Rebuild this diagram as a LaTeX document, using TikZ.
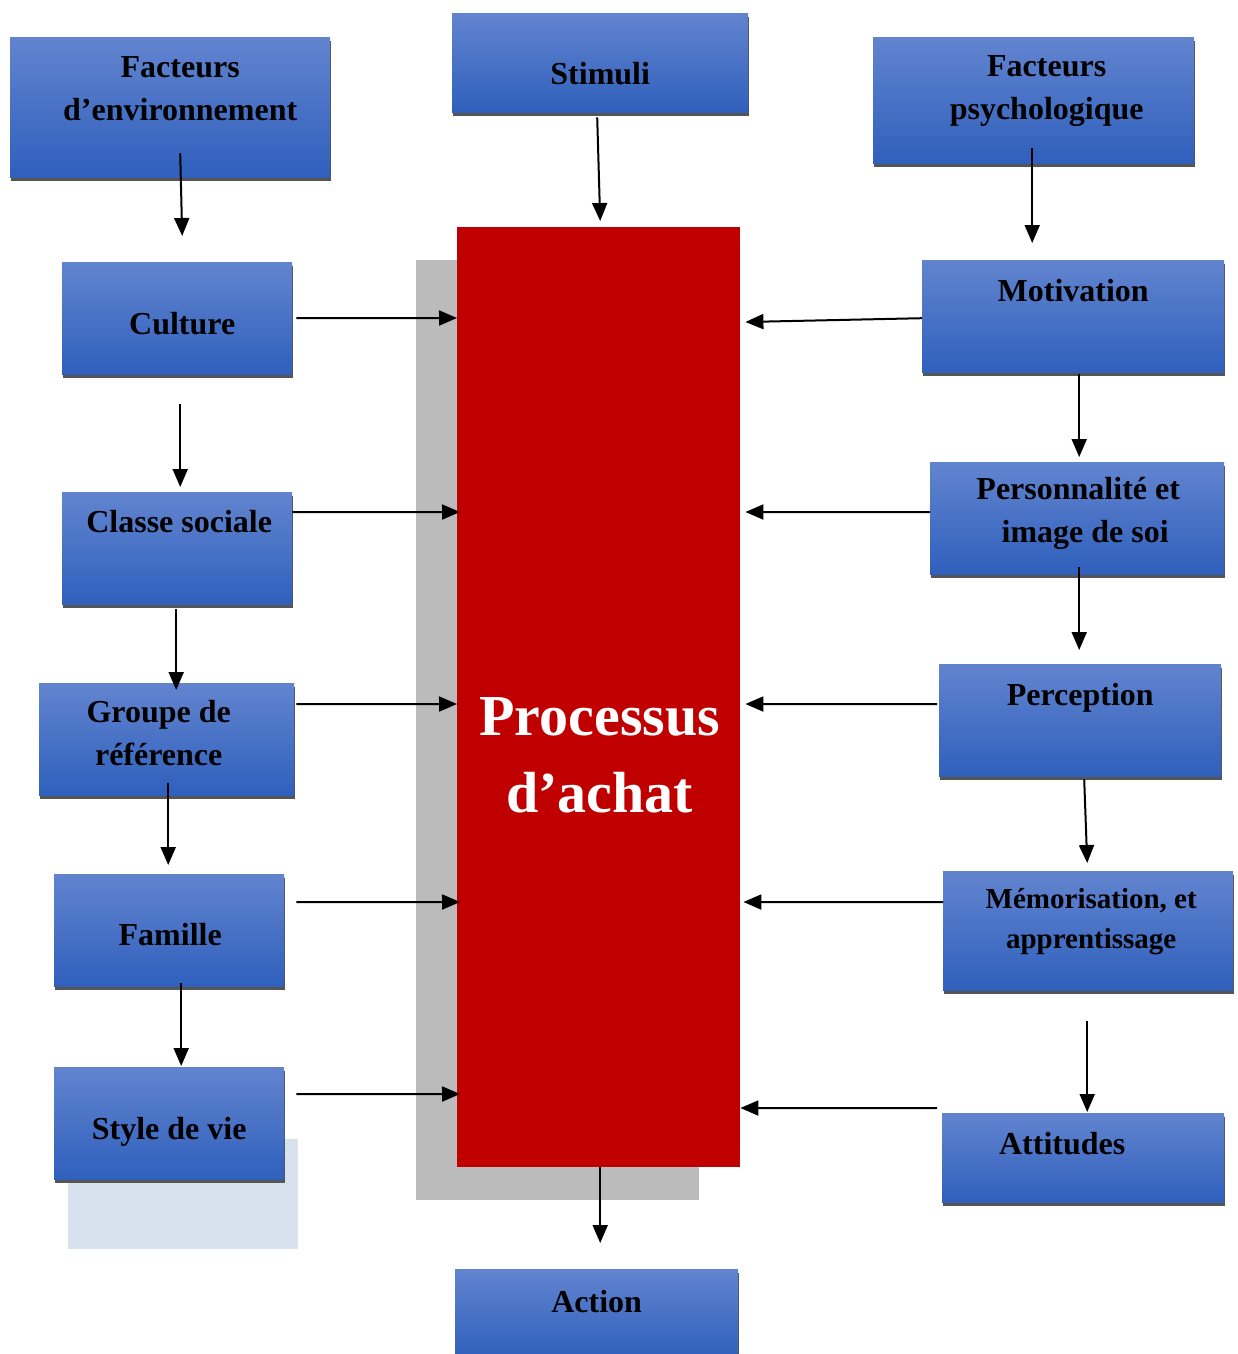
\documentclass[tikz,border=0pt]{standalone}
\usepackage{fontspec}
\setmainfont{Liberation Serif}
\usetikzlibrary{arrows.meta,shadows}
\definecolor{bleuhaut}{HTML}{6284CF}
\definecolor{bleubas}{HTML}{2F60BC}
\definecolor{rouge}{HTML}{C00000}
\definecolor{gris}{HTML}{BBBBBB}
\definecolor{ombre}{HTML}{555555}
\definecolor{bleupale}{HTML}{D8E2EF}
\tikzset{
  boite/.style={
    rectangle, anchor=north west, inner sep=0pt,
    top color=bleuhaut, bottom color=bleubas,
    drop shadow={shadow xshift=1pt, shadow yshift=-4pt, fill=ombre, opacity=1}
  },
  etiq/.style={font=\bfseries\fontsize{32}{43}\selectfont, align=center, text=black},
  petit/.style={font=\bfseries\fontsize{29}{40}\selectfont},
  fleche/.style={-{Triangle[length=18pt,width=15pt]}, line width=2pt}
}

\begin{document}
\begin{tikzpicture}[x=1pt,y=-1pt]
\useasboundingbox (0,0) rectangle (1238,1354);

\node[anchor=north west, inner sep=0pt, fill=rouge, minimum width=283, minimum height=940,
  drop shadow={shadow xshift=-41pt, shadow yshift=-33pt, fill=gris, opacity=1},
  label={[font=\bfseries\fontsize{58}{77}\selectfont, text=white, align=center, xshift=1pt, yshift=-58pt]center:{Processus\\d’achat}}]
  (proc) at (457,227) {};

\node[boite, minimum width=320, minimum height=140, label={[etiq, xshift=10pt, yshift=19pt]center:{Facteurs\\d’environnement}}] (fe) at (10,37) {};
\node[boite, minimum width=296, minimum height=99, label={[etiq, yshift=-11pt]center:Stimuli}] (stim) at (452,13) {};
\node[boite, minimum width=321, minimum height=126, label={[etiq, xshift=13pt, yshift=9pt]center:{Facteurs\\psychologique}}] (fp) at (873,37) {};

\node[boite, minimum width=230, minimum height=112, label={[etiq, xshift=5pt, yshift=-5pt]center:Culture}] (cult) at (62,262) {};
\node[boite, minimum width=230, minimum height=112, label={[etiq, xshift=2pt, yshift=27pt]center:Classe sociale}] (classe) at (62,492) {};
\node[boite, minimum width=255, minimum height=112, label={[etiq, xshift=-8pt, yshift=6pt]center:{Groupe de\\référence}}] (groupe) at (39,683) {};
\node[boite, minimum width=230, minimum height=112, label={[etiq, xshift=1pt, yshift=-4pt]center:Famille}] (fam) at (54,874) {};
\fill[bleupale] (68,1139) rectangle (298,1249);
\node[boite, minimum width=230, minimum height=112, label={[etiq, yshift=-9pt]center:Style de vie}] (style) at (54,1067) {};

\node[boite, minimum width=302, minimum height=112, label={[etiq, yshift=26pt]center:Motivation}] (motiv) at (922,260) {};
\node[boite, minimum width=294, minimum height=112, label={[etiq, xshift=1pt, yshift=5pt]center:{Personnalité et\\\hspace*{14pt}image de soi}}] (perso) at (930,462) {};
\node[boite, minimum width=282, minimum height=112, label={[etiq, yshift=22pt]center:Perception}] (percep) at (939,664) {};
\node[boite, minimum width=290, minimum height=119, label={[etiq, petit, xshift=3pt, yshift=9pt]center:{Mémorisation, et\\apprentissage}}] (memo) at (943,871) {};
\node[boite, minimum width=282, minimum height=89, label={[etiq, xshift=-21pt, yshift=14pt]center:Attitudes}] (att) at (942,1113) {};

\node[boite, minimum width=283, minimum height=90, label={[etiq, yshift=13pt]center:Action}] (action) at (455,1269) {};

\draw[fleche] ([shift={(10,-24)}]fe.south) -- ([shift={(5,-26)}]cult.north);
\draw[fleche] ([shift={(-3,5)}]stim.south) -- ([shift={(1.5,-6)}]proc.north);
\draw[fleche] ([shift={(-1.5,-15)}]fp.south) -- ([shift={(-41,-17)}]motiv.north);

\draw[fleche] ([shift={(3,30)}]cult.south) -- ([shift={(3,-5)}]classe.north);
\draw[fleche] ([shift={(-1,5)}]classe.south) -- ([shift={(9.5,7)}]groupe.north);
\draw[fleche] ([shift={(1.5,-12)}]groupe.south) -- ([shift={(-1,-9)}]fam.north);
\draw[fleche] ([shift={(12,-3)}]fam.south) -- ([shift={(12,-1)}]style.north);

\draw[fleche] ([shift={(4,0)}]cult.east) -- ([shift={(0,91)}]proc.north west);
\draw[fleche] ([shift={(0,-36)}]classe.east) -- ([shift={(3,285)}]proc.north west);
\draw[fleche] ([shift={(2,-35)}]groupe.east) -- ([shift={(0,477)}]proc.north west);
\draw[fleche] ([shift={(12,-28)}]fam.east) -- ([shift={(3,675)}]proc.north west);
\draw[fleche] ([shift={(12,-29)}]style.east) -- ([shift={(3,867)}]proc.north west);

\draw[fleche] ([shift={(0,2)}]motiv.west) -- ([shift={(5,95)}]proc.north east);
\draw[fleche] ([shift={(0,-6)}]perso.west) -- ([shift={(5,285)}]proc.north east);
\draw[fleche] ([shift={(-2,-16)}]percep.west) -- ([shift={(5,477)}]proc.north east);
\draw[fleche] ([shift={(0,-28.5)}]memo.west) -- ([shift={(3,675)}]proc.north east);
\draw[fleche] ([shift={(-5,-49.5)}]att.west) -- ([shift={(0,881)}]proc.north east);

\draw[fleche] ([shift={(6,2)}]motiv.south) -- ([shift={(2,-5)}]perso.north);
\draw[fleche] ([shift={(2,-7)}]perso.south) -- ([shift={(-1,-14)}]percep.north);
\draw[fleche] ([shift={(4,3)}]percep.south) -- ([shift={(-1,-8)}]memo.north);
\draw[fleche] ([shift={(-1,31)}]memo.south) -- ([shift={(4,-1)}]att.north);

\draw[fleche] ([shift={(1.5,0)}]proc.south) -- ([shift={(3.5,-26)}]action.north);
\end{tikzpicture}
\end{document}
